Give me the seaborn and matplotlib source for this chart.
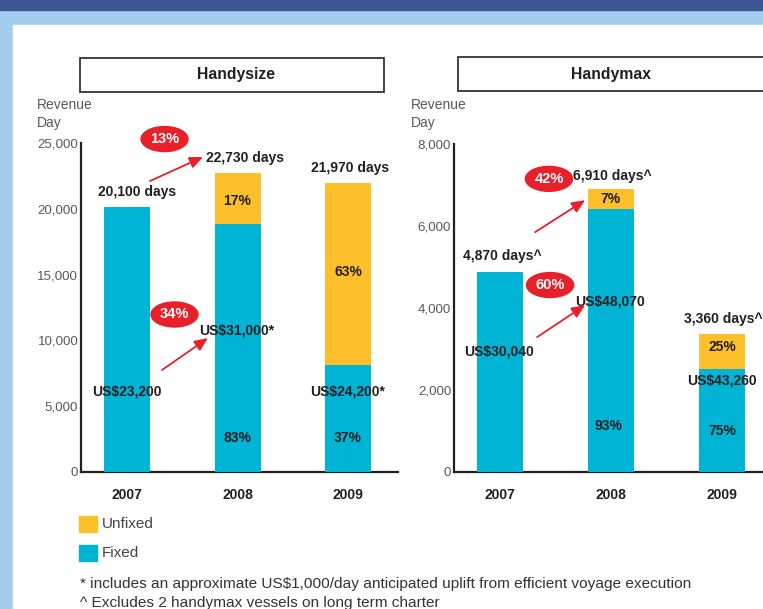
import matplotlib
matplotlib.use("Agg")
import matplotlib.pyplot as plt
from matplotlib.patches import Rectangle, Ellipse
import seaborn as sns
import pandas as pd

# data
years = ["2007", "2008", "2009"]
handysize_days = [20100, 22730, 21970]
handysize_fixed_pct = [100, 83, 37]
handysize_rates = ["US$23,200", "US$31,000*", "US$24,200*"]
handymax_days = [4870, 6910, 3360]
handymax_fixed_pct = [100, 93, 75]
handymax_rates = ["US$30,040", "US$48,070", "US$43,260"]

FIXED = "#00B4D5"
UNFIXED = "#FDC02A"
RED = "#E8202A"
DARK = "#231F20"
GREY = "#58595B"
W, H = 763, 609

sns.set_style("white")
plt.rcParams["font.family"] = ["Liberation Sans", "DejaVu Sans"]

fig = plt.figure(figsize=(W / 100, H / 100), dpi=100)
fig.patch.set_facecolor("#A3CDEF")


def fy(y):
    # pixel row -> figure fraction
    return 1 - y / H


# background panels
fig.add_artist(Rectangle((0, fy(10)), 1, 10 / H, transform=fig.transFigure,
                         color="#3F5790", zorder=0))
fig.add_artist(Rectangle((13 / W, 0), (W - 13) / W, (H - 25) / H,
                         transform=fig.transFigure, color="white", zorder=0))


def make_panel(rect, days, fixed_pct, ymax, xmax):
    ax = fig.add_axes(rect)
    df = pd.DataFrame({"year": years, "total": days,
                       "fixed": [d * p / 100 for d, p in zip(days, fixed_pct)]})
    sns.barplot(data=df, x="year", y="total", color=UNFIXED, width=0.416,
                saturation=1, linewidth=0, edgecolor="none", ax=ax, zorder=2)
    sns.barplot(data=df, x="year", y="fixed", color=FIXED, width=0.416,
                saturation=1, linewidth=0, edgecolor="none", ax=ax, zorder=3)
    ax.set_ylim(0, ymax)
    ax.set_xlim(-0.416, xmax)
    ax.set_xlabel("")
    ax.set_ylabel("")
    ax.patch.set_alpha(0)
    for s in ["top", "right"]:
        ax.spines[s].set_visible(False)
    for s in ["left", "bottom"]:
        ax.spines[s].set_color(DARK)
        ax.spines[s].set_linewidth(1.6)
    ax.tick_params(axis="both", length=0)
    ax.tick_params(axis="y", pad=2, labelsize=9.6, labelcolor=GREY)
    ax.tick_params(axis="x", pad=11.5)
    ax.yaxis.set_major_formatter(matplotlib.ticker.FuncFormatter(lambda v, p: f"{int(v):,}"))
    for lab in ax.get_xticklabels():
        lab.set_fontweight("bold")
        lab.set_fontsize(10)
        lab.set_color(DARK)
    return ax


def label(ax, x, y, s, size=10, color=DARK):
    ax.text(x, y, s, ha="center", va="center", fontsize=size, fontweight="bold",
            color=color, zorder=5, clip_on=False)


def badge(ax, x, y, s, ymax):
    w = 47 / 110.5
    h = 25 / 329 * ymax
    ax.add_patch(Ellipse((x, y), w, h, color=RED, zorder=6, clip_on=False))
    ax.text(x, y, s, ha="center", va="center", fontsize=10.5, fontweight="bold",
            color="white", zorder=7, clip_on=False)


def arrow(ax, start, end):
    ax.annotate("", xy=end, xytext=start, zorder=6, annotation_clip=False,
                arrowprops=dict(arrowstyle="-|>,head_length=0.8,head_width=0.35",
                                color=RED, lw=1.3, shrinkA=0, shrinkB=0))


# Handysize
ax1 = make_panel([81 / W, fy(472), (398 - 81) / W, 329 / H],
                 handysize_days, handysize_fixed_pct, 25000, 2.452)
ax1.set_yticks(range(0, 25001, 5000))
label(ax1, 0.09, 21280, "20,100 days")
label(ax1, 1.07, 23860, "22,730 days")
label(ax1, 2.02, 23100, "21,970 days")
label(ax1, 1.0, 20600, "17%")
label(ax1, 2.0, 15200, "63%")
label(ax1, 1.0, 2620, "83%")
label(ax1, 2.0, 2620, "37%")
label(ax1, 0.0, 6120, handysize_rates[0])
label(ax1, 0.99, 10720, handysize_rates[1])
label(ax1, 2.0, 6120, handysize_rates[2])
badge(ax1, 0.34, 25300, "13%", 25000)
badge(ax1, 0.43, 11970, "34%", 25000)
arrow(ax1, (0.208, 22110), (0.688, 23940))
arrow(ax1, (0.317, 7750), (0.733, 10180))

# Handymax
ax2 = make_panel([454 / W, fy(472), (W - 454) / W, 328 / H],
                 handymax_days, handymax_fixed_pct, 8000, (W - 500) / 111)
ax2.set_yticks(range(0, 8001, 2000))
label(ax2, 0.02, 5270, "4,870 days^")
label(ax2, 1.01, 7220, "6,910 days^")
label(ax2, 0.99, 6660, "7%")
label(ax2, 2.01, 3730, "3,360 days^")
label(ax2, 2.0, 3040, "25%")
label(ax2, 0.98, 1120, "93%")
label(ax2, 2.0, 990, "75%")
label(ax2, -0.01, 2930, handymax_rates[0])
label(ax2, 0.99, 4170, handymax_rates[1])
label(ax2, 2.0, 2220, handymax_rates[2])
badge(ax2, 0.44, 7150, "42%", 8000)
badge(ax2, 0.45, 4560, "60%", 8000)
arrow(ax2, (0.315, 5850), (0.766, 6630))
arrow(ax2, (0.333, 3290), (0.766, 4070))

# axis captions
for x in (37, 411):
    fig.text(x / W, fy(105), "Revenue", ha="left", va="center", fontsize=10, color=GREY)
    fig.text(x / W, fy(123), "Day", ha="left", va="center", fontsize=10, color=GREY)

# title boxes
for x0, x1, y0, y1, cx, t in [(80, 384, 58, 92, 236, "Handysize"),
                              (458, 800, 57, 91, 611, "Handymax")]:
    fig.add_artist(Rectangle((x0 / W, fy(y1)), (x1 - x0) / W, (y1 - y0) / H,
                             transform=fig.transFigure, facecolor="white",
                             edgecolor="#333333", lw=1.3, zorder=3))
    fig.text(cx / W, fy((y0 + y1) / 2), t, ha="center", va="center",
             fontsize=11.3, fontweight="bold", color=DARK, zorder=4)

# legend
for y, c, t in [(516, UNFIXED, "Unfixed"), (545, FIXED, "Fixed")]:
    fig.add_artist(Rectangle((79 / W, fy(y + 16)), 18 / W, 16 / H,
                             transform=fig.transFigure, color=c))
    fig.text(102 / W, fy(y + 8), t, ha="left", va="center", fontsize=11, color="#444444")

# footnotes
fig.text(80 / W, fy(584),
         "* includes an approximate US$1,000/day anticipated uplift from efficient voyage execution",
         ha="left", va="center", fontsize=11.1, color="#333333")
fig.text(80 / W, fy(603), "^ Excludes 2 handymax vessels on long term charter",
         ha="left", va="center", fontsize=11.1, color="#333333")

fig.savefig("out.png", dpi=100, facecolor=fig.get_facecolor())
